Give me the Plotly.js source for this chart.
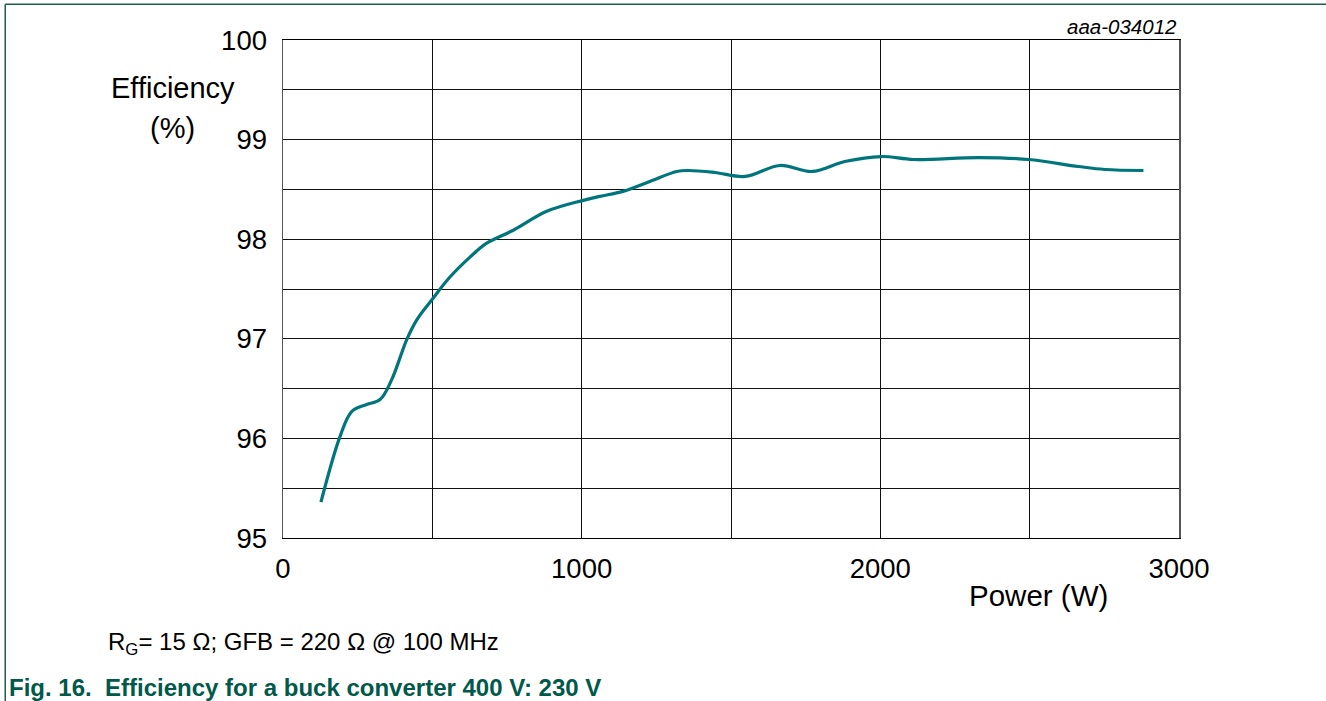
<!DOCTYPE html>
<html><head><meta charset="utf-8">
<script src="https://cdn.plot.ly/plotly-3.0.1.min.js"></script>
<style>html,body{margin:0;padding:0;background:#fff;}#chart{width:1326px;height:701px;}</style>
</head><body><div id="chart"></div>
<script>
const powerW = [127, 191, 230, 280, 325, 364, 414, 448, 498, 559, 626, 682, 771, 883, 1005, 1061, 1138, 1228, 1318, 1356, 1446, 1548, 1663, 1772, 1881, 2003, 2112, 2330, 2496, 2663, 2752, 2881];
const efficiency = [95.36, 96.02, 96.27, 96.34, 96.39, 96.59, 96.99, 97.19, 97.39, 97.62, 97.82, 97.96, 98.09, 98.28, 98.39, 98.43, 98.48, 98.58, 98.68, 98.69, 98.67, 98.63, 98.74, 98.68, 98.78, 98.83, 98.80, 98.82, 98.80, 98.73, 98.70, 98.69];
const xTicks = [0, 1000, 2000, 3000];
const yTicks = [95, 96, 97, 98, 99, 100];

const FONT = 'Liberation Sans, Arial, sans-serif';
const trace = {
  x: powerW, y: efficiency, type: 'scatter', mode: 'lines',
  line: {color: '#00767C', width: 3.2, shape: 'spline', smoothing: 1},
  hoverinfo: 'skip'
};
const layout = {
  width: 1326, height: 701,
  margin: {l: 283, r: 147, t: 40, b: 163},
  paper_bgcolor: '#fff', plot_bgcolor: '#fff',
  showlegend: false,
  font: {family: FONT, color: '#000', size: 27},
  xaxis: {
    range: [0, 3000], tickvals: xTicks, ticktext: xTicks.map(String),
    showgrid: true, gridcolor: '#111', gridwidth: 1,
    minor: {dtick: 500, showgrid: true, gridcolor: '#111', gridwidth: 1},
    showline: true, linecolor: '#000', linewidth: 1.2, mirror: true,
    ticks: '', ticklabelstandoff: 6, zeroline: false,
    tickfont: {family: FONT, size: 27.5, color: '#000'}
  },
  yaxis: {
    range: [95, 100], tickvals: yTicks, ticktext: yTicks.map(String),
    showgrid: true, gridcolor: '#111', gridwidth: 1,
    minor: {dtick: 0.5, showgrid: true, gridcolor: '#111', gridwidth: 1},
    showline: true, linecolor: '#555', linewidth: 1.5, mirror: true,
    ticks: '', ticklabelstandoff: 9, zeroline: false,
    tickfont: {family: FONT, size: 27.5, color: '#000'}
  },
  annotations: [
    {xref: 'paper', yref: 'paper', x: 1, y: 1, xanchor: 'right', yanchor: 'bottom', yshift: 0,
     text: '<i>aaa-034012</i>', showarrow: false, font: {family: FONT, size: 20.5, color: '#000'}},
    {xref: 'paper', yref: 'paper', x: -0.123, y: 0.903, xanchor: 'center', yanchor: 'middle',
     text: 'Efficiency', showarrow: false, font: {family: FONT, size: 29, color: '#000'}},
    {xref: 'paper', yref: 'paper', x: -0.123, y: 0.823, xanchor: 'center', yanchor: 'middle',
     text: '(%)', showarrow: false, font: {family: FONT, size: 29, color: '#000'}},
    {xref: 'paper', yref: 'paper', x: 0.843, y: -0.115, xanchor: 'center', yanchor: 'middle',
     text: 'Power (W)', showarrow: false, font: {family: FONT, size: 29.5, color: '#000'}},
    {xref: 'paper', yref: 'paper', x: -0.197, y: -0.212, xanchor: 'left', yanchor: 'middle',
     text: 'R<sub>G</sub>= 15 Ω; GFB = 220 Ω @ 100 MHz', showarrow: false, font: {family: FONT, size: 24, color: '#000'}},
    {xref: 'paper', yref: 'paper', x: -0.308, y: -0.3, xanchor: 'left', yanchor: 'middle',
     text: '<b>Fig. 16.  Efficiency for a buck converter 400 V: 230 V</b>', showarrow: false, font: {family: FONT, size: 24, color: '#00594A'}}
  ],
  shapes: [
    {type: 'line', xref: 'paper', yref: 'paper', x0: -0.31, x1: 1.17, y0: 1.072, y1: 1.072, line: {color: '#1E5E4E', width: 1.5}},
    {type: 'line', xref: 'paper', yref: 'paper', x0: -0.31, x1: -0.31, y0: 1.072, y1: -0.33, line: {color: '#1E5E4E', width: 1.5}}
  ]
};
Plotly.newPlot('chart', [trace], layout, {staticPlot: true, displayModeBar: false});
</script></body></html>
